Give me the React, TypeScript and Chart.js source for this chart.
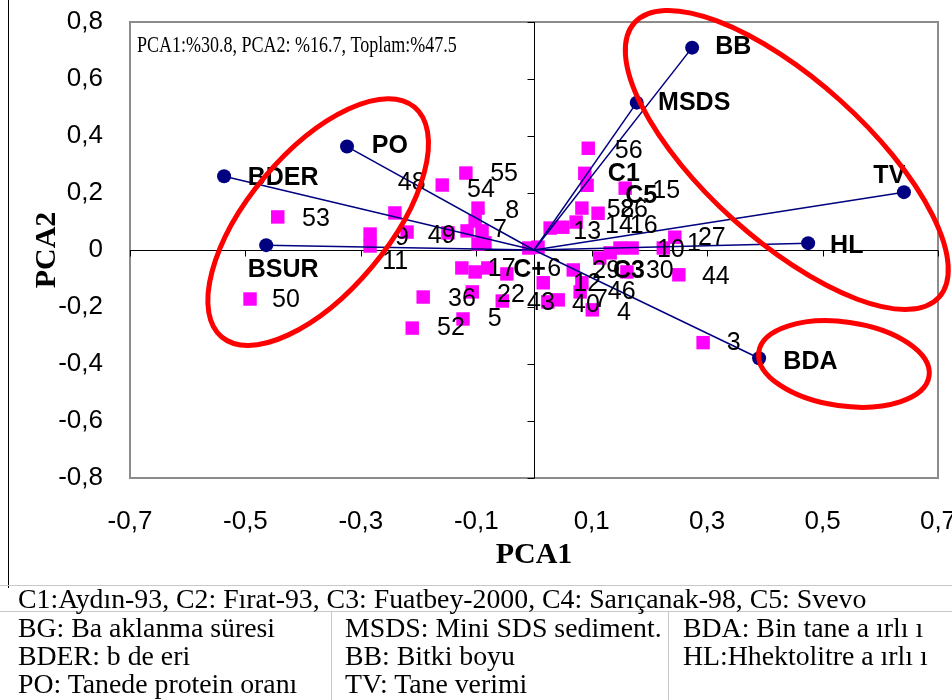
import React, { useEffect, useRef } from "react";
import { Chart, registerables } from "chart.js";

Chart.register(...registerables);

// ---------------- data ----------------
const xTicks = [-0.7, -0.5, -0.3, -0.1, 0.1, 0.3, 0.5, 0.7];
const yTicks = [-0.8, -0.6, -0.4, -0.2, 0, 0.2, 0.4, 0.6, 0.8];

// genotype scores (magenta squares)
const genotypeX = [
  -0.444, -0.492, -0.241, -0.284, -0.284, -0.22, -0.159, -0.118, -0.097, -0.102,
  -0.116, -0.149, -0.09, -0.085, -0.097, -0.125, -0.102, -0.08, -0.047, -0.192,
  -0.107, -0.055, -0.211, -0.123, -0.009, 0.007, 0.016, 0.024, 0.042, 0.028,
  0.05, 0.073, 0.094, 0.088, 0.092, 0.083, 0.111, 0.158, 0.068, 0.083,
  0.101, 0.114, 0.132, 0.149, 0.17, 0.161, 0.224, 0.244, 0.251, 0.293, 0.08,
];
const genotypeY = [
  0.116, -0.172, 0.13, 0.056, 0.014, 0.063, 0.228, 0.27, 0.147, 0.102,
  0.067, 0.06, 0.067, 0.025, 0.021, -0.063, -0.077, -0.063, -0.084, -0.165,
  -0.147, -0.179, -0.274, -0.242, 0.007, 0.01, -0.115, -0.182, -0.175, 0.077,
  0.08, 0.098, 0.357, 0.269, 0.227, 0.147, 0.129, 0.217, -0.07, -0.115,
  -0.21, -0.028, -0.01, 0.007, 0.007, -0.077, 0.007, 0.045, -0.087, -0.325, -0.147,
];

// genotype labels
const pointLabelText = [
  "53", "50", "48", "54", "55", "8", "7", "9", "49", "11", "17", "C+", "6", "36", "22", "5", "52",
  "43", "40", "7", "12", "29", "C3", "30", "46", "4", "13", "14", "16", "58", "26", "56", "C1",
  "C5", "15", "10", "1", "27", "44", "3",
];
const pointLabelX = [
  -0.402, -0.454, -0.236, -0.116, -0.076, -0.05, -0.071, -0.241, -0.184, -0.263, -0.08, -0.036, 0.023,
  -0.149, -0.064, -0.08, -0.168, -0.012, 0.066, 0.104, 0.068, 0.101, 0.137, 0.194, 0.128, 0.144, 0.068,
  0.123, 0.166, 0.126, 0.149, 0.14, 0.128, 0.158, 0.205, 0.213, 0.265, 0.284, 0.291, 0.334,
];
const pointLabelY = [
  0.109, -0.175, 0.235, 0.211, 0.267, 0.137, 0.07, 0.042, 0.049, -0.042, -0.067, -0.07, -0.067,
  -0.172, -0.158, -0.242, -0.274, -0.186, -0.193, -0.175, -0.119, -0.074, -0.074, -0.074, -0.147, -0.221,
  0.063, 0.084, 0.084, 0.14, 0.14, 0.347, 0.267, 0.189, 0.207, 0.0, 0.021, 0.042, -0.095, -0.326,
];
const boldLabels = ["C+", "C1", "C3", "C5"];

// trait vectors
const vectorNames = ["BB", "MSDS", "TV", "HL", "BDA", "PO", "BDER", "BSUR"];
const vectorX = [0.274, 0.178, 0.641, 0.475, 0.39, -0.324, -0.537, -0.464];
const vectorY = [0.71, 0.517, 0.203, 0.024, -0.38, 0.363, 0.259, 0.017];
const vectorLabelX = [0.314, 0.215, 0.588, 0.513, 0.432, -0.281, -0.496, -0.496];
const vectorLabelY = [0.712, 0.516, 0.26, 0.014, -0.393, 0.365, 0.253, -0.07];

// red group ellipses: centre (data), semi axes (px), rotation (deg)
const ellipseCX = [-0.374, 0.438, 0.537];
const ellipseCY = [0.098, 0.316, -0.4];
const ellipseA = [150, 205, 86];
const ellipseB = [70, 80, 42];
const ellipseRot = [-50, 42, 8];

const annotation = "PCA1:%30.8, PCA2: %16.7, Toplam:%47.5";

const legendTop = "C1:Aydın-93, C2: Fırat-93, C3: Fuatbey-2000, C4: Sarıçanak-98, C5: Svevo";
const legendCol1 = ["BG: Ba aklanma süresi", "BDER: b de eri", "PO: Tanede protein oranı"];
const legendCol2 = ["MSDS: Mini SDS sediment.", "BB: Bitki boyu", "TV: Tane verimi"];
const legendCol3 = ["BDA: Bin tane a ırlı ı", "HL:Hhektolitre a ırlı ı"];

// ---------------- helpers ----------------
const fmt = (v: number) => {
  if (Math.abs(v) < 1e-9) return "0";
  return v.toFixed(1).replace(".", ",");
};

const NAVY = "#000080";
const MAGENTA = "#ff00ff";

const decorPlugin = {
  id: "decor",
  beforeDatasetsDraw(chart: any) {
    const { ctx, chartArea: a, scales } = chart;
    const xs = scales.x;
    const ys = scales.y;
    ctx.save();
    // plot box
    ctx.strokeStyle = "#8c8c8c";
    ctx.lineWidth = 2;
    ctx.strokeRect(a.left, a.top, a.right - a.left, a.bottom - a.top);
    // zero axes
    const x0 = Math.round(xs.getPixelForValue(0)) + 0.5;
    const y0 = Math.round(ys.getPixelForValue(0)) + 0.5;
    ctx.strokeStyle = "#000";
    ctx.lineWidth = 1;
    ctx.beginPath();
    ctx.moveTo(x0, a.top);
    ctx.lineTo(x0, a.bottom);
    ctx.moveTo(a.left, y0);
    ctx.lineTo(a.right, y0);
    xTicks.forEach((v) => {
      const px = Math.round(xs.getPixelForValue(v)) + 0.5;
      ctx.moveTo(px, y0);
      ctx.lineTo(px, y0 + 6);
    });
    yTicks.forEach((v) => {
      const py = Math.round(ys.getPixelForValue(v)) + 0.5;
      ctx.moveTo(x0 - 7, py);
      ctx.lineTo(x0, py);
    });
    ctx.stroke();
    ctx.restore();
  },
  afterDatasetsDraw(chart: any) {
    const { ctx, chartArea: a, scales } = chart;
    const xs = scales.x;
    const ys = scales.y;
    ctx.save();
    ctx.fillStyle = "#000";
    ctx.textBaseline = "middle";
    ctx.textAlign = "left";
    // genotype labels
    pointLabelText.forEach((t, i) => {
      const bold = boldLabels.includes(t);
      ctx.font = (bold ? "bold " : "") + "25px 'Liberation Sans', Arial, sans-serif";
      ctx.fillText(t, xs.getPixelForValue(pointLabelX[i]), ys.getPixelForValue(pointLabelY[i]));
    });
    // vector labels
    ctx.font = "bold 25px 'Liberation Sans', Arial, sans-serif";
    vectorNames.forEach((t, i) => {
      ctx.fillText(t, xs.getPixelForValue(vectorLabelX[i]), ys.getPixelForValue(vectorLabelY[i]));
    });
    // ellipses
    ctx.strokeStyle = "#ff0000";
    ctx.lineWidth = 5;
    ellipseCX.forEach((cx, i) => {
      ctx.beginPath();
      ctx.ellipse(
        xs.getPixelForValue(cx),
        ys.getPixelForValue(ellipseCY[i]),
        ellipseA[i],
        ellipseB[i],
        (ellipseRot[i] * Math.PI) / 180,
        0,
        Math.PI * 2
      );
      ctx.stroke();
    });
    // annotation
    ctx.save();
    ctx.translate(a.left + 7, a.top + 30);
    ctx.scale(0.75, 1);
    ctx.font = "24px 'Liberation Serif', 'Times New Roman', serif";
    ctx.textBaseline = "alphabetic";
    ctx.fillText(annotation, 0, 0);
    ctx.restore();
    // axis titles
    ctx.font = "bold 30px 'Liberation Serif', 'Times New Roman', serif";
    ctx.textAlign = "center";
    ctx.textBaseline = "alphabetic";
    ctx.fillText("PCA1", xs.getPixelForValue(0), a.bottom + 85);
    ctx.save();
    ctx.translate(a.left - 75, ys.getPixelForValue(0));
    ctx.rotate(-Math.PI / 2);
    ctx.fillText("PCA2", 0, 0);
    ctx.restore();
    ctx.restore();
  },
};

export default function App() {
  const canvasRef = useRef<HTMLCanvasElement | null>(null);

  useEffect(() => {
    if (!canvasRef.current) return;
    const vectorSets = vectorNames.map((n, i) => ({
      label: n,
      data: [
        { x: 0, y: 0 },
        { x: vectorX[i], y: vectorY[i] },
      ],
      showLine: true,
      borderColor: NAVY,
      borderWidth: 1.5,
      backgroundColor: NAVY,
      pointBackgroundColor: NAVY,
      pointBorderWidth: 0,
      pointRadius: [0, 7],
      clip: false as any,
    }));
    const squares = {
      label: "genotypes",
      data: genotypeX.map((x, i) => ({ x, y: genotypeY[i] })),
      pointStyle: "rect",
      pointRadius: 9.5,
      backgroundColor: MAGENTA,
      borderWidth: 0,
      pointBorderWidth: 0,
      showLine: false,
    };
    const chart = new Chart(canvasRef.current, {
      type: "scatter",
      data: { datasets: [...vectorSets, squares] as any },
      options: {
        responsive: false,
        animation: false,
        devicePixelRatio: 1,
        layout: { padding: { left: 0, right: 14, top: 22, bottom: 0 } },
        plugins: { legend: { display: false }, tooltip: { enabled: false } },
        scales: {
          x: {
            type: "linear",
            min: -0.7,
            max: 0.7,
            grid: { display: false },
            border: { display: false },
            ticks: {
              font: { family: "'Liberation Sans', Arial, sans-serif", size: 26 },
              color: "#000",
              padding: 20,
              maxRotation: 0,
              autoSkip: false,
              callback: (v: any) => fmt(Number(v)),
            },
            afterBuildTicks: (s: any) => {
              s.ticks = xTicks.map((v) => ({ value: v }));
            },
            afterFit: (s: any) => {
              s.height = 107;
              s.paddingLeft = 0;
              s.paddingRight = 0;
            },
          },
          y: {
            type: "linear",
            min: -0.8,
            max: 0.8,
            grid: { display: false },
            border: { display: false },
            ticks: {
              font: { family: "'Liberation Sans', Arial, sans-serif", size: 26 },
              color: "#000",
              padding: 19,
              autoSkip: false,
              callback: (v: any) => fmt(Number(v)),
            },
            afterBuildTicks: (s: any) => {
              s.ticks = yTicks.map((v) => ({ value: v }));
            },
            afterFit: (s: any) => {
              s.width = 130;
              s.paddingTop = 0;
              s.paddingBottom = 0;
            },
          },
        },
      } as any,
      plugins: [decorPlugin],
    });
    return () => chart.destroy();
  }, []);

  const serif = "'Liberation Serif', 'Times New Roman', serif";
  const textStyle = (left: number, top: number): React.CSSProperties => ({
    position: "absolute",
    left,
    top,
    fontFamily: serif,
    fontSize: 27.8,
    lineHeight: "27px",
    whiteSpace: "pre",
    color: "#000",
  });
  const rowTops = [614, 642, 670];

  return (
    <div style={{ position: "absolute", left: 0, top: 0, width: 952, height: 700, background: "#fff", overflow: "hidden" }}>
      <canvas ref={canvasRef} width={952} height={585} style={{ position: "absolute", left: 0, top: 0 }} />
      <div style={{ position: "absolute", left: 8, top: 0, width: 1, height: 588, background: "#000" }} />
      <div style={{ position: "absolute", left: 0, top: 585, width: 952, height: 1, background: "#c8c8c8" }} />
      <div style={{ position: "absolute", left: 0, top: 611, width: 952, height: 1, background: "#c8c8c8" }} />
      <div style={{ position: "absolute", left: 331, top: 611, width: 1, height: 89, background: "#c8c8c8" }} />
      <div style={{ position: "absolute", left: 668, top: 611, width: 1, height: 89, background: "#c8c8c8" }} />
      <div style={textStyle(18, 585)}>{legendTop}</div>
      {legendCol1.map((t, i) => (
        <div key={"a" + i} style={textStyle(18, rowTops[i])}>{t}</div>
      ))}
      {legendCol2.map((t, i) => (
        <div key={"b" + i} style={textStyle(345, rowTops[i])}>{t}</div>
      ))}
      {legendCol3.map((t, i) => (
        <div key={"c" + i} style={textStyle(683, rowTops[i])}>{t}</div>
      ))}
    </div>
  );
}
